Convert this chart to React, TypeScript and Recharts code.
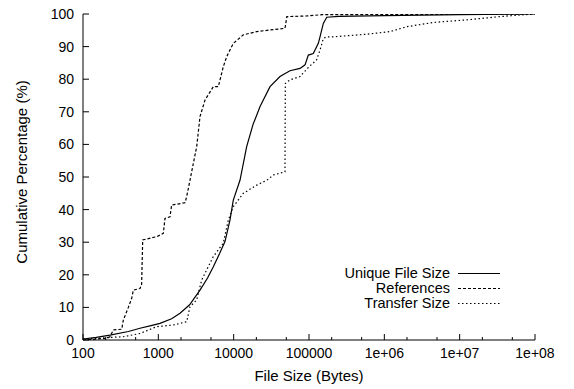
import { Legend, Line, LineChart, XAxis, YAxis } from 'recharts'

// cumulative distributions, x = bytes, y = percent
const uniqueSize = [
  [100, 0.3], [150, 0.8], [228, 1.5], [400, 2.6], [571, 3.6], [800, 4.4], [1052, 5.1],
  [1500, 6.5], [1941, 8.2], [2600, 10.8], [3573, 15.3], [4500, 19], [5370, 22.5],
  [6500, 26.5], [7670, 30.2], [8930, 36.8], [9886, 42.9], [12130, 49], [14880, 59.3],
  [18000, 66], [22400, 71.6], [30370, 77.7], [41200, 80.8], [55900, 82.6], [76000, 83.3],
  [88600, 84.4], [98000, 87.4], [114000, 87.9], [133000, 91], [140000, 93], [155000, 97.1],
  [172000, 99], [250000, 99.3], [1e6, 99.5], [1e7, 99.8], [1e8, 100],
].map(([x, y]) => ({ x, y }))

const references = [
  [100, 0], [200, 0.5], [228, 1], [253, 3.1], [327, 3.3], [343, 6.1], [400, 10], [443, 12.8],
  [466, 15.3], [571, 15.8], [600, 17], [620, 30.7], [950, 31.7], [1165, 32.7], [1225, 37.3],
  [1428, 37.8], [1502, 41.4], [2260, 42.1], [2380, 44], [2630, 49], [3230, 59.3],
  [3573, 68.5], [4165, 73.6], [4600, 75.2], [5370, 77.7], [6250, 77.7], [7280, 83.8],
  [8070, 86.9], [9890, 91], [13430, 93.6], [20200, 94.6], [30400, 95.1], [48000, 95.6],
  [50800, 99.2], [93300, 99.4], [150000, 99.8], [1e8, 100],
].map(([x, y]) => ({ x, y }))

const transferSize = [
  [100, 0.3], [343, 1], [571, 2], [950, 4.1], [1580, 4.6], [2380, 5.6], [2630, 10.2],
  [3230, 12.3], [3760, 18.4], [4380, 21.5], [5370, 25.6], [7280, 29.7], [8490, 36.8],
  [9890, 40.9], [13430, 45], [20200, 47.5], [27500, 49], [33600, 50.6], [48000, 51.6],
  [48500, 78.7], [55900, 79.8], [76000, 80.8], [83000, 81.8], [100000, 83.8], [126000, 85.9],
  [140000, 88.9], [155000, 92.5], [172000, 93], [210000, 93], [583000, 93.8],
  [1190000, 94.6], [1980000, 96.1], [4460000, 97.4], [12400000, 98.2], [34300000, 99.2],
  [63000000, 99.7], [1e8, 100],
].map(([x, y]) => ({ x, y }))

const series = [
  { name: 'Unique File Size', data: uniqueSize, dash: undefined },
  { name: 'References', data: references, dash: '3 2' },
  { name: 'Transfer Size', data: transferSize, dash: '1.5 2.5' },
]

const majorX = [1e2, 1e3, 1e4, 1e5, 1e6, 1e7, 1e8]
const minorX = majorX.slice(0, -1).flatMap((d) => [d * 2, d * 5])
const xTicks = [...majorX, ...minorX].sort((a, b) => a - b)
const yTicks = [0, 10, 20, 30, 40, 50, 60, 70, 80, 90, 100]
const xLabels: Record<number, string> = {
  100: '100', 1000: '1000', 10000: '10000', 100000: '100000',
  1000000: '1e+06', 10000000: '1e+07', 100000000: '1e+08',
}

const font = '"Liberation Sans", Arial, sans-serif'

const BottomTick = ({ x, y, payload }: any) => {
  const major = majorX.includes(payload.value)
  return (
    <g>
      <line x1={x} y1={y} x2={x} y2={y - (major ? 6 : 3)} stroke="#000" />
      {major && (
        <text x={x} y={y + 18} textAnchor="middle" fontSize={14} fill="#000">
          {xLabels[payload.value]}
        </text>
      )}
    </g>
  )
}

const TopTick = ({ x, y, payload }: any) => {
  const major = majorX.includes(payload.value)
  return <line x1={x} y1={y} x2={x} y2={y + (major ? 6 : 3)} stroke="#000" />
}

const LeftTick = ({ x, y, payload }: any) => (
  <g>
    <line x1={x} y1={y} x2={x + 6} y2={y} stroke="#000" />
    <text x={x - 9} y={y} dy="0.35em" textAnchor="end" fontSize={14} fill="#000">
      {payload.value}
    </text>
  </g>
)

const RightTick = ({ x, y }: any) => <line x1={x} y1={y} x2={x - 6} y2={y} stroke="#000" />

const renderLegend = () => (
  <svg width={230} height={60}>
    {series.map((s, i) => {
      const base = 16 + i * 15
      return (
        <g key={s.name}>
          <text x={150} y={base} textAnchor="end" fontSize={14.5} fill="#000" fontFamily={font}>
            {s.name}
          </text>
          <line x1={158} x2={200} y1={base - 4.5} y2={base - 4.5} stroke="#000" strokeWidth={1.2} strokeDasharray={s.dash} />
        </g>
      )
    })}
  </svg>
)

export default function App() {
  return (
    <div style={{ position: 'absolute', left: 0, top: 0, fontFamily: font }}>
      <LineChart width={574} height={389} margin={{ top: 14, right: 39, bottom: 0, left: 0 }}>
        <XAxis
          xAxisId="b"
          type="number"
          dataKey="x"
          scale="log"
          domain={[100, 1e8]}
          allowDataOverflow
          ticks={xTicks}
          interval={0}
          height={49}
          tickSize={0}
          tickMargin={0}
          tickLine={false}
          tick={<BottomTick />}
          axisLine={{ stroke: '#000' }}
          label={{
            content: ({ viewBox }: any) => (
              <text x={viewBox.x + viewBox.width / 2} y={viewBox.y + 41} textAnchor="middle" fontSize={15} fill="#000">
                File Size (Bytes)
              </text>
            ),
          }}
        />
        <XAxis
          xAxisId="t"
          orientation="top"
          type="number"
          dataKey="x"
          scale="log"
          domain={[100, 1e8]}
          allowDataOverflow
          ticks={xTicks}
          interval={0}
          height={0}
          tickSize={0}
          tickMargin={0}
          tickLine={false}
          tick={<TopTick />}
          axisLine={{ stroke: '#000' }}
        />
        <YAxis
          yAxisId="l"
          type="number"
          domain={[0, 100]}
          allowDataOverflow
          ticks={yTicks}
          interval={0}
          width={83}
          tickSize={0}
          tickMargin={0}
          tickLine={false}
          tick={<LeftTick />}
          axisLine={{ stroke: '#000' }}
          label={{
            content: ({ viewBox }: any) => {
              const cx = 27
              const cy = viewBox.y + viewBox.height / 2 - 5
              return (
                <text x={cx} y={cy} transform={`rotate(-90, ${cx}, ${cy})`} textAnchor="middle" fontSize={15} fill="#000">
                  Cumulative Percentage (%)
                </text>
              )
            },
          }}
        />
        <YAxis
          yAxisId="r"
          orientation="right"
          type="number"
          domain={[0, 100]}
          allowDataOverflow
          ticks={yTicks}
          interval={0}
          width={0}
          tickSize={0}
          tickMargin={0}
          tickLine={false}
          tick={<RightTick />}
          axisLine={{ stroke: '#000' }}
        />
        {series.map((s) => (
          <Line
            key={s.name}
            xAxisId="b"
            yAxisId="l"
            data={s.data}
            dataKey="y"
            name={s.name}
            type="linear"
            stroke="#000"
            strokeWidth={1.2}
            strokeDasharray={s.dash}
            dot={false}
            isAnimationActive={false}
          />
        ))}
        <Legend
          layout="vertical"
          align="center"
          verticalAlign="middle"
          content={renderLegend}
          wrapperStyle={{ left: 300, top: 262, width: 230, height: 60 }}
        />
      </LineChart>
    </div>
  )
}
